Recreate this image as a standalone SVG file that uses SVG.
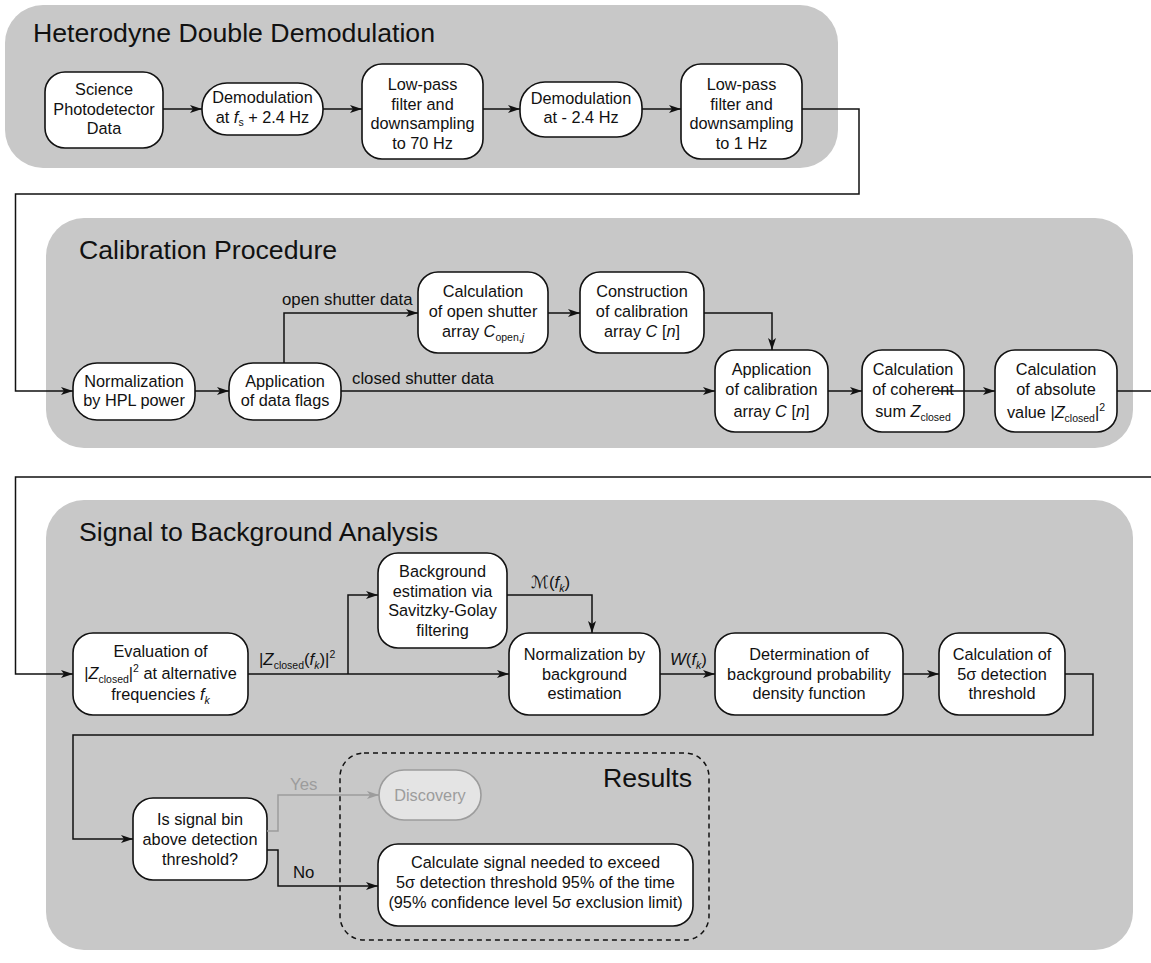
<svg xmlns="http://www.w3.org/2000/svg" width="1151" height="963" viewBox="0 0 1151 963">
<style>
.sec{fill:#c8c8c8}
.node rect{fill:#fff;stroke:#111;stroke-width:1.6}
text{font-family:"Liberation Sans","DejaVu Sans",Arial,sans-serif;fill:#111}
.t{font-size:16.3px;text-anchor:middle}
.lbl{font-size:16.8px}
.title{font-size:26.7px}
.c{fill:none;stroke:#111;stroke-width:1.5}
.g{stroke:#9c9c9c}
.i{font-style:italic}
.sub{font-size:10.5px}
</style>
<defs>
<marker id="ah" viewBox="0 0 12 8" refX="12" refY="4" markerWidth="12" markerHeight="8" markerUnits="userSpaceOnUse" orient="auto"><path d="M0,0 L12,4 L0,8 L3,4 z" fill="#111"/></marker>
<marker id="ahg" viewBox="0 0 12 8" refX="12" refY="4" markerWidth="12" markerHeight="8" markerUnits="userSpaceOnUse" orient="auto"><path d="M0,0 L12,4 L0,8 L3,4 z" fill="#9c9c9c"/></marker>
</defs>
<rect width="1151" height="963" fill="#fff"/>

<g id="sections">
<rect class="sec" x="5" y="5" width="833" height="163" rx="38"/>
<text class="title" x="33" y="42">Heterodyne Double Demodulation</text>
<rect class="sec" x="46" y="218" width="1087" height="230" rx="38"/>
<text class="title" x="79" y="259">Calibration Procedure</text>
<rect class="sec" x="46" y="500" width="1087" height="450" rx="38"/>
<text class="title" x="79" y="541">Signal to Background Analysis</text>
</g>

<g id="results-group">
<rect x="340" y="753" width="369" height="187" rx="24" fill="none" stroke="#111" stroke-width="1.5" stroke-dasharray="5 4"/>
<text class="title" x="692" y="787" text-anchor="end">Results</text>
</g>

<g id="n-science" class="node"><rect x="45" y="72" width="118" height="76" rx="20"/>
<text class="t" x="104" y="95">Science</text><text class="t" x="104" y="114.5">Photodetector</text><text class="t" x="104" y="134">Data</text></g>
<g id="n-demod1" class="node"><rect x="202" y="83" width="121" height="52" rx="25"/>
<text class="t" x="262.5" y="103">Demodulation</text><text class="t" x="262.5" y="123">at <tspan class="i">f</tspan><tspan class="sub" dy="3">s</tspan><tspan dy="-3"> + 2.4 Hz</tspan></text></g>
<g id="n-lp70" class="node"><rect x="362" y="64" width="121" height="95" rx="20"/>
<text class="t" x="422.5" y="90">Low-pass</text><text class="t" x="422.5" y="109.5">filter and</text><text class="t" x="422.5" y="129">downsampling</text><text class="t" x="422.5" y="148.5">to 70 Hz</text></g>
<g id="n-demod2" class="node"><rect x="520" y="82" width="122" height="55" rx="25"/>
<text class="t" x="581" y="103.5">Demodulation</text><text class="t" x="581" y="123">at - 2.4 Hz</text></g>
<g id="n-lp1" class="node"><rect x="681" y="64" width="121" height="95" rx="20"/>
<text class="t" x="741.5" y="90">Low-pass</text><text class="t" x="741.5" y="109.5">filter and</text><text class="t" x="741.5" y="129">downsampling</text><text class="t" x="741.5" y="148.5">to 1 Hz</text></g>

<g id="n-norm" class="node"><rect x="73" y="363" width="122" height="57" rx="24"/>
<text class="t" x="134" y="386.5">Normalization</text><text class="t" x="134" y="406">by HPL power</text></g>
<g id="n-flags" class="node"><rect x="229" y="363" width="112" height="57" rx="24"/>
<text class="t" x="285" y="386.5">Application</text><text class="t" x="285" y="406">of data flags</text></g>
<g id="n-open" class="node"><rect x="418" y="272" width="130" height="81" rx="20"/>
<text class="t" x="483" y="297">Calculation</text><text class="t" x="483" y="317">of open shutter</text><text class="t" x="483" y="337">array <tspan class="i">C</tspan><tspan class="sub" dy="4">open,<tspan class="i">j</tspan></tspan><tspan dy="-4"></tspan></text></g>
<g id="n-construct" class="node"><rect x="580" y="272" width="124" height="81" rx="20"/>
<text class="t" x="642" y="297">Construction</text><text class="t" x="642" y="317">of calibration</text><text class="t" x="642" y="337">array <tspan class="i">C</tspan> [<tspan class="i">n</tspan>]</text></g>
<g id="n-appcal" class="node"><rect x="715" y="350" width="113" height="82" rx="20"/>
<text class="t" x="771.5" y="375">Application</text><text class="t" x="771.5" y="395">of calibration</text><text class="t" x="771.5" y="417">array <tspan class="i">C</tspan> [<tspan class="i">n</tspan>]</text></g>
<g id="n-coherent" class="node"><rect x="862" y="350" width="102" height="82" rx="20"/>
<text class="t" x="913" y="375">Calculation</text><text class="t" x="913" y="395">of coherent</text><text class="t" x="913" y="417">sum <tspan class="i">Z</tspan><tspan class="sub" dy="4">closed</tspan><tspan dy="-4"></tspan></text></g>
<g id="n-abs" class="node"><rect x="995" y="350" width="122" height="82" rx="20"/>
<text class="t" x="1056" y="375">Calculation</text><text class="t" x="1056" y="395">of absolute</text><text class="t" x="1056" y="418">value |<tspan class="i">Z</tspan><tspan class="sub" dy="4">closed</tspan><tspan dy="-4">|</tspan><tspan class="sub" dy="-7">2</tspan><tspan dy="7"></tspan></text></g>

<g id="n-eval" class="node"><rect x="73" y="633" width="175" height="82" rx="20"/>
<text class="t" x="160.5" y="657">Evaluation of</text><text class="t" x="160.5" y="679">|<tspan class="i">Z</tspan><tspan class="sub" dy="4">closed</tspan><tspan dy="-4">|</tspan><tspan class="sub" dy="-7">2</tspan><tspan dy="7"> at alternative</tspan></text><text class="t" x="160.5" y="700">frequencies <tspan class="i">f</tspan><tspan class="sub i" dy="4">k</tspan><tspan dy="-4"></tspan></text></g>
<g id="n-bg" class="node"><rect x="378" y="553" width="129" height="95" rx="20"/>
<text class="t" x="442.5" y="577">Background</text><text class="t" x="442.5" y="596.5">estimation via</text><text class="t" x="442.5" y="616">Savitzky-Golay</text><text class="t" x="442.5" y="635.5">filtering</text></g>
<g id="n-normbg" class="node"><rect x="509" y="633" width="151" height="82" rx="20"/>
<text class="t" x="584.5" y="660">Normalization by</text><text class="t" x="584.5" y="679.5">background</text><text class="t" x="584.5" y="699">estimation</text></g>
<g id="n-det" class="node"><rect x="715" y="633" width="188" height="82" rx="20"/>
<text class="t" x="809" y="660">Determination of</text><text class="t" x="809" y="679.5">background probability</text><text class="t" x="809" y="699">density function</text></g>
<g id="n-5sig" class="node"><rect x="939" y="633" width="126" height="82" rx="20"/>
<text class="t" x="1002" y="660">Calculation of</text><text class="t" x="1002" y="679.5">5σ detection</text><text class="t" x="1002" y="699">threshold</text></g>
<g id="n-issig" class="node"><rect x="133" y="798" width="134" height="82" rx="20"/>
<text class="t" x="200" y="825">Is signal bin</text><text class="t" x="200" y="845">above detection</text><text class="t" x="200" y="865">threshold?</text></g>
<g id="n-discovery"><rect x="379" y="770" width="102" height="50" rx="25" fill="#e4e4e4" stroke="#9c9c9c" stroke-width="1.6"/>
<text class="t" x="430" y="801" style="fill:#9c9c9c">Discovery</text></g>
<g id="n-calc" class="node"><rect x="378" y="844" width="315" height="82" rx="20"/>
<text class="t" x="535.5" y="868">Calculate signal needed to exceed</text><text class="t" x="535.5" y="888">5σ detection threshold 95% of the time</text><text class="t" x="535.5" y="908">(95% confidence level 5σ exclusion limit)</text></g>

<g id="connectors">
<path class="c" d="M163,109 H202" marker-end="url(#ah)"/>
<path class="c" d="M323,109 H362" marker-end="url(#ah)"/>
<path class="c" d="M483,109 H520" marker-end="url(#ah)"/>
<path class="c" d="M642,109 H681" marker-end="url(#ah)"/>
<path class="c" d="M802,109 H859 V194 H15.5 V391 H73" marker-end="url(#ah)"/>
<path class="c" d="M195,391 H229" marker-end="url(#ah)"/>
<path class="c" d="M284,363 V313 H418" marker-end="url(#ah)"/>
<path class="c" d="M548,313 H580" marker-end="url(#ah)"/>
<path class="c" d="M704,313 H772 V350" marker-end="url(#ah)"/>
<path class="c" d="M341,391 H715" marker-end="url(#ah)"/>
<path class="c" d="M828,391 H862" marker-end="url(#ah)"/>
<path class="c" d="M938,391 H995" marker-end="url(#ah)"/>
<path class="c" d="M1117,391 H1156 V477 H15.5 V674 H73" marker-end="url(#ah)"/>
<path class="c" d="M248,674 H509" marker-end="url(#ah)"/>
<path class="c" d="M348,674 V595 H378" marker-end="url(#ah)"/>
<path class="c" d="M507,595 H592 V633" marker-end="url(#ah)"/>
<path class="c" d="M660,674 H715" marker-end="url(#ah)"/>
<path class="c" d="M903,674 H939" marker-end="url(#ah)"/>
<path class="c" d="M1065,674 H1093 V735 H73 V839 H133" marker-end="url(#ah)"/>
<path class="c g" d="M267,831 H278 V795 H379" marker-end="url(#ahg)"/>
<path class="c" d="M267,850 H278 V886 H378" marker-end="url(#ah)"/>
<text class="lbl" x="282" y="305">open shutter data</text>
<text class="lbl" x="352" y="384">closed shutter data</text>
<text class="lbl" x="259" y="665">|<tspan class="i">Z</tspan><tspan class="sub" dy="4">closed</tspan><tspan dy="-4">(<tspan class="i">f</tspan></tspan><tspan class="sub i" dy="4">k</tspan><tspan dy="-4">)|</tspan><tspan class="sub" dy="-7">2</tspan><tspan dy="7"></tspan></text>
<text class="lbl" x="531" y="588">ℳ(<tspan class="i">f</tspan><tspan class="sub i" dy="4">k</tspan><tspan dy="-4">)</tspan></text>
<text class="lbl" x="670" y="665"><tspan class="i">W</tspan>(<tspan class="i">f</tspan><tspan class="sub i" dy="4">k</tspan><tspan dy="-4">)</tspan></text>
<text class="lbl" x="290" y="790" style="fill:#9c9c9c">Yes</text>
<text class="lbl" x="293" y="878">No</text>
</g>
</svg>
